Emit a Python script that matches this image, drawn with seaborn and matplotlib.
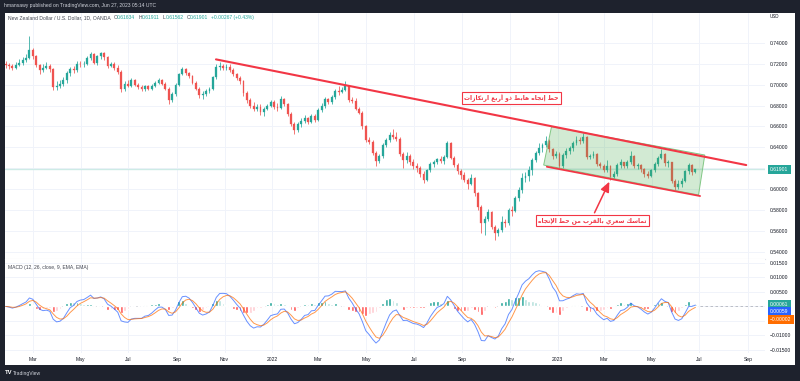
import numpy as np
import pandas as pd
import matplotlib
matplotlib.use("Agg")
import matplotlib.pyplot as plt
import matplotlib.dates as mdates
import matplotlib.transforms as mtransforms
from matplotlib.patches import Rectangle, Polygon
from matplotlib.ticker import FuncFormatter, FixedLocator
import seaborn as sns

# ---------------- DATA (3-trading-day bars, NZD/USD) ----------------
first_open = 0.7200
close_2021 = [0.7190, 0.7175,
              0.7160, 0.7190, 0.7210, 0.7235, 0.7255, 0.7330, 0.7270,
              0.7190, 0.7140, 0.7160, 0.7180, 0.7145, 0.6980, 0.6990,
              0.7010, 0.7040, 0.7110, 0.7150, 0.7140, 0.7200, 0.7195,
              0.7200, 0.7250, 0.7290, 0.7210, 0.7270, 0.7300, 0.7260,
              0.7180, 0.7200, 0.7160, 0.7120, 0.6960, 0.7010, 0.6990,
              0.7040, 0.7000, 0.6975, 0.6955, 0.6985, 0.6960, 0.6990,
              0.7020, 0.7040, 0.7010, 0.6960, 0.6850, 0.6910, 0.7000,
              0.7100, 0.7150, 0.7110, 0.7080, 0.7020, 0.6960, 0.6900,
              0.6910, 0.6940, 0.6960, 0.7070, 0.7170, 0.7180, 0.7160,
              0.7170, 0.7140, 0.7100, 0.7060, 0.7030, 0.6920, 0.6850,
              0.6800, 0.6770, 0.6790, 0.6740, 0.6770, 0.6800, 0.6830]
high_2021 = [0.7225, 0.7205,
             0.7195, 0.7215, 0.7240, 0.7265, 0.7290, 0.7465, 0.7345,
             0.7285, 0.7200, 0.7195, 0.7220, 0.7200, 0.7160, 0.7030,
             0.7040, 0.7070, 0.7130, 0.7170, 0.7180, 0.7225, 0.7230,
             0.7230, 0.7270, 0.7310, 0.7305, 0.7285, 0.7315, 0.7310,
             0.7270, 0.7220, 0.7215, 0.7185, 0.7135, 0.7030, 0.7045,
             0.7060, 0.7055, 0.7020, 0.7000, 0.7000, 0.6995, 0.7010,
             0.7035, 0.7060, 0.7055, 0.7025, 0.6975, 0.6925, 0.7015,
             0.7115, 0.7170, 0.7160, 0.7125, 0.7095, 0.7035, 0.6975,
             0.6935, 0.6960, 0.6975, 0.7085, 0.7200, 0.7220, 0.7195,
             0.7200, 0.7195, 0.7160, 0.7115, 0.7080, 0.7045, 0.6935,
             0.6870, 0.6830, 0.6815, 0.6810, 0.6785, 0.6815, 0.6855]
low_2021 = [0.7160, 0.7150,
            0.7140, 0.7145, 0.7175, 0.7190, 0.7215, 0.7240, 0.7240,
            0.7170, 0.7100, 0.7125, 0.7145, 0.7120, 0.6945, 0.6950,
            0.6965, 0.6990, 0.7020, 0.7085, 0.7115, 0.7125, 0.7170,
            0.7165, 0.7185, 0.7235, 0.7195, 0.7190, 0.7245, 0.7235,
            0.7160, 0.7165, 0.7140, 0.7105, 0.6925, 0.6940, 0.6975,
            0.6975, 0.6985, 0.6960, 0.6935, 0.6940, 0.6945, 0.6950,
            0.6975, 0.7005, 0.7000, 0.6945, 0.6810, 0.6830, 0.6895,
            0.6990, 0.7090, 0.7095, 0.7060, 0.7005, 0.6945, 0.6870,
            0.6860, 0.6890, 0.6920, 0.6945, 0.7055, 0.7140, 0.7140,
            0.7140, 0.7125, 0.7085, 0.7040, 0.7010, 0.6890, 0.6820,
            0.6780, 0.6750, 0.6745, 0.6710, 0.6700, 0.6755, 0.6785]

close_2022 = [0.6790, 0.6780, 0.6860, 0.6810, 0.6720, 0.6620, 0.6570,
              0.6620, 0.6650, 0.6680, 0.6640, 0.6700, 0.6660, 0.6760,
              0.6800, 0.6860, 0.6830, 0.6880, 0.6940, 0.6930, 0.6950,
              0.6990, 0.6850, 0.6840, 0.6770, 0.6730, 0.6600, 0.6470,
              0.6450, 0.6350, 0.6270, 0.6320, 0.6420, 0.6470, 0.6520,
              0.6500, 0.6480, 0.6340, 0.6280, 0.6320, 0.6260, 0.6220,
              0.6200, 0.6150, 0.6090, 0.6180, 0.6240, 0.6260, 0.6290,
              0.6270, 0.6310, 0.6440, 0.6300, 0.6230, 0.6170, 0.6140,
              0.6090, 0.6050, 0.6110, 0.5960, 0.5830, 0.5680, 0.5720,
              0.5780, 0.5640, 0.5580, 0.5610, 0.5690, 0.5680, 0.5800,
              0.5790, 0.5920, 0.5990, 0.6110, 0.6130, 0.6180, 0.6280,
              0.6350, 0.6390, 0.6420, 0.6460, 0.6380, 0.6320, 0.6340]
high_2022 = [0.6850, 0.6820, 0.6890, 0.6875, 0.6825, 0.6735, 0.6640,
             0.6640, 0.6680, 0.6705, 0.6695, 0.6715, 0.6720, 0.6775,
             0.6820, 0.6880, 0.6870, 0.6900, 0.6960, 0.6985, 0.6975,
             0.7035, 0.7000, 0.6880, 0.6870, 0.6790, 0.6745, 0.6615,
             0.6500, 0.6470, 0.6365, 0.6340, 0.6440, 0.6490, 0.6550,
             0.6575, 0.6545, 0.6495, 0.6355, 0.6355, 0.6335, 0.6285,
             0.6250, 0.6225, 0.6170, 0.6195, 0.6260, 0.6280, 0.6300,
             0.6320, 0.6330, 0.6465, 0.6455, 0.6320, 0.6250, 0.6190,
             0.6160, 0.6110, 0.6150, 0.6120, 0.5975, 0.5850, 0.5740,
             0.5815, 0.5790, 0.5655, 0.5625, 0.5740, 0.5720, 0.5820,
             0.5840, 0.5940, 0.6020, 0.6155, 0.6160, 0.6225, 0.6300,
             0.6370, 0.6445, 0.6440, 0.6512, 0.6480, 0.6395, 0.6370]
low_2022 = [0.6770, 0.6745, 0.6765, 0.6795, 0.6700, 0.6600, 0.6530,
            0.6550, 0.6595, 0.6630, 0.6625, 0.6630, 0.6640, 0.6650,
            0.6735, 0.6780, 0.6815, 0.6810, 0.6860, 0.6905, 0.6915,
            0.6935, 0.6835, 0.6825, 0.6760, 0.6715, 0.6580, 0.6455,
            0.6430, 0.6330, 0.6220, 0.6250, 0.6300, 0.6400, 0.6450,
            0.6480, 0.6460, 0.6320, 0.6200, 0.6250, 0.6230, 0.6195,
            0.6165, 0.6120, 0.6060, 0.6075, 0.6160, 0.6215, 0.6240,
            0.6250, 0.6245, 0.6295, 0.6285, 0.6210, 0.6150, 0.6100,
            0.6070, 0.6000, 0.6040, 0.5940, 0.5800, 0.5580, 0.5560,
            0.5700, 0.5620, 0.5512, 0.5555, 0.5590, 0.5640, 0.5660,
            0.5740, 0.5780, 0.5890, 0.5960, 0.6070, 0.6080, 0.6140,
            0.6260, 0.6330, 0.6360, 0.6400, 0.6360, 0.6290, 0.6300]

close_2023 = [0.6220, 0.6330, 0.6370, 0.6390, 0.6440, 0.6470, 0.6460,
              0.6500, 0.6310, 0.6320, 0.6340, 0.6240, 0.6220, 0.6180,
              0.6220, 0.6120, 0.6150, 0.6230, 0.6260, 0.6220, 0.6260,
              0.6320, 0.6220, 0.6230, 0.6190, 0.6150, 0.6130, 0.6180,
              0.6240, 0.6300, 0.6340, 0.6250, 0.6260, 0.6080, 0.6020,
              0.6050, 0.6080, 0.6170, 0.6230, 0.6163, 0.6190]
high_2023 = [0.6360, 0.6345, 0.6390, 0.6410, 0.6460, 0.6510, 0.6495,
             0.6538, 0.6510, 0.6340, 0.6365, 0.6350, 0.6265, 0.6240,
             0.6275, 0.6230, 0.6170, 0.6250, 0.6290, 0.6265, 0.6275,
             0.6365, 0.6330, 0.6255, 0.6240, 0.6205, 0.6170, 0.6195,
             0.6265, 0.6320, 0.6385, 0.6350, 0.6275, 0.6265, 0.6095,
             0.6085, 0.6105, 0.6185, 0.6247, 0.6240, 0.6191]
low_2023 = [0.6190, 0.6205, 0.6300, 0.6340, 0.6365, 0.6420, 0.6435,
            0.6445, 0.6290, 0.6290, 0.6300, 0.6220, 0.6200, 0.6160,
            0.6160, 0.6085, 0.6100, 0.6130, 0.6200, 0.6200, 0.6205,
            0.6245, 0.6200, 0.6190, 0.6165, 0.6120, 0.6110, 0.6115,
            0.6160, 0.6225, 0.6285, 0.6220, 0.6215, 0.6060, 0.5985,
            0.6000, 0.6020, 0.6065, 0.6150, 0.6140, 0.6156]

start_date, end_date = "2021-01-25", "2023-06-26"
price_ticks = [0.54, 0.56, 0.58, 0.60, 0.62, 0.64, 0.66, 0.68, 0.70, 0.72, 0.74]
macd_ticks = [0.015, 0.010, 0.005, 0.0, -0.005, -0.010, -0.015]
last_price = 0.61901
header_text = "hmansawy published on TradingView.com, Jun 27, 2023 05:14 UTC"
title_name = "New Zealand Dollar / U.S. Dollar, 1D, OANDA"
ohlc_labels = [("O", "0.61634"), ("H", "0.61911"), ("L", "0.61562"), ("C", "0.61901")]
change_label = "+0.00267 (+0.43%)"
macd_title = "MACD (12, 26, close, 9, EMA, EMA)"
macd_values = ["0.00061", "0.00059", "\u22120.00002"]
trend_note = "خط إتجاه هابط ذو أربع ارتكازات"
hold_note = "تماسك سعري بالقرب من خط الإتجاه"

# ---------------- Arabic shaping helper (matplotlib has no shaping) ----------------
AR_FORMS = {
    '\u0627': (0xFE8D, 0xFE8E, None, None), '\u0623': (0xFE83, 0xFE84, None, None),
    '\u0625': (0xFE87, 0xFE88, None, None), '\u0628': (0xFE8F, 0xFE90, 0xFE91, 0xFE92),
    '\u062A': (0xFE95, 0xFE96, 0xFE97, 0xFE98), '\u062C': (0xFE9D, 0xFE9E, 0xFE9F, 0xFEA0),
    '\u062E': (0xFEA5, 0xFEA6, 0xFEA7, 0xFEA8), '\u062F': (0xFEA9, 0xFEAA, None, None),
    '\u0630': (0xFEAB, 0xFEAC, None, None), '\u0631': (0xFEAD, 0xFEAE, None, None),
    '\u0632': (0xFEAF, 0xFEB0, None, None), '\u0633': (0xFEB1, 0xFEB2, 0xFEB3, 0xFEB4),
    '\u0637': (0xFEC1, 0xFEC2, 0xFEC3, 0xFEC4), '\u0639': (0xFEC9, 0xFECA, 0xFECB, 0xFECC),
    '\u0642': (0xFED5, 0xFED6, 0xFED7, 0xFED8), '\u0643': (0xFED9, 0xFEDA, 0xFEDB, 0xFEDC),
    '\u0644': (0xFEDD, 0xFEDE, 0xFEDF, 0xFEE0), '\u0645': (0xFEE1, 0xFEE2, 0xFEE3, 0xFEE4),
    '\u0646': (0xFEE5, 0xFEE6, 0xFEE7, 0xFEE8), '\u0647': (0xFEE9, 0xFEEA, 0xFEEB, 0xFEEC),
    '\u0648': (0xFEED, 0xFEEE, None, None), '\u064A': (0xFEF1, 0xFEF2, 0xFEF3, 0xFEF4),
}
LAM_ALEF = {'\u0627': (0xFEFB, 0xFEFC), '\u0623': (0xFEF7, 0xFEF8), '\u0625': (0xFEF9, 0xFEFA)}


def shape_ar(s):
    toks, i = [], 0
    while i < len(s):
        c = s[i]
        if c == '\u0644' and i + 1 < len(s) and s[i + 1] in LAM_ALEF:
            iso, fin = LAM_ALEF[s[i + 1]]
            toks.append((iso, fin, None, None))
            i += 2
            continue
        toks.append(AR_FORMS.get(c, c))
        i += 1
    out = []
    for k, t in enumerate(toks):
        if isinstance(t, str):
            out.append(t)
            continue
        prev = toks[k - 1] if k > 0 else None
        nxt = toks[k + 1] if k + 1 < len(toks) else None
        jp = isinstance(prev, tuple) and prev[2] is not None
        jn = t[2] is not None and isinstance(nxt, tuple)
        g = t[3] if (jp and jn) else t[1] if jp else t[2] if jn else t[0]
        out.append(chr(g))
    return ''.join(reversed(out))


# ---------------- build series ----------------
closes = np.array(close_2021 + close_2022 + close_2023)
highs = np.array(high_2021 + high_2022 + high_2023)
lows = np.array(low_2021 + low_2022 + low_2023)
opens = np.concatenate([[first_open], closes[:-1]])
dates = pd.date_range(start_date, end_date, periods=len(closes))
xd = mdates.date2num(dates)

# MACD(12, 26, 9) on daily data, converted to 3-day bars (same EMA lag in days)
bar_days = 3.09
span = lambda n: 1 + (n - 1) / bar_days
s = pd.Series(closes)
macd = s.ewm(span=span(12), adjust=False).mean() - s.ewm(span=span(26), adjust=False).mean()
signal = macd.ewm(span=span(9), adjust=False).mean()
hist = macd - signal

# ---------------- style ----------------
sns.set_theme(style="white")
plt.rcParams['font.family'] = ['Liberation Sans', 'DejaVu Sans']
UP, DN = '#26a69a', '#ef5350'
RED = '#f23645'
DARK = '#1e222d'
GRID = '#f0f3fa'
TXT = '#131722'
FS = 3.6

W, H = 800.0, 381.0
fx = lambda px: px / W
fy = lambda py: 1 - py / H

fig = plt.figure(figsize=(8, 3.81), dpi=100, facecolor=DARK)
fig.patches.append(Rectangle((fx(4.5), fy(365)), fx(794.5) - fx(4.5), fy(12.5) - fy(365),
                             transform=fig.transFigure, facecolor='white', edgecolor='none', zorder=-10))
ax = fig.add_axes([fx(4.5), fy(258.5), fx(765) - fx(4.5), fy(12.5) - fy(258.5)])
ax2 = fig.add_axes([fx(4.5), fy(353), fx(765) - fx(4.5), fy(258.5) - fy(353)], sharex=ax)
for a in (ax, ax2):
    a.set_facecolor('white')
    for sp in a.spines.values():
        sp.set_visible(False)
    a.set_axisbelow(True)
ax.spines['bottom'].set_visible(True)
ax.spines['bottom'].set_color('#e0e3eb')
ax.spines['bottom'].set_linewidth(0.8)

ax.set_xlim(pd.Timestamp('2021-01-23 14:00'), pd.Timestamp('2023-09-23'))
ax.set_ylim(0.5338, 0.7689)
ax2.set_ylim(-0.01612, 0.01657)

# ---------------- candles ----------------
col = np.where(closes >= opens, UP, DN)
ax.vlines(xd, lows, highs, colors=col, lw=0.55, zorder=3)
ax.bar(xd, np.maximum(np.abs(closes - opens), 0.0002), bottom=np.minimum(opens, closes),
       width=2.4, color=col, edgecolor=col, lw=0.2, zorder=4)

ax.axhline(last_price, color='#cdebe6', lw=1.0, zorder=2)

# trend line, channel, annotations
ax.plot([pd.Timestamp('2021-10-21'), pd.Timestamp('2023-08-30')], [0.7241, 0.6231],
        color=RED, lw=1.5, zorder=6, solid_capstyle='round')
chan = [(pd.Timestamp('2022-12-24'), 0.6597), (pd.Timestamp('2023-07-08'), 0.6327),
        (pd.Timestamp('2023-06-30'), 0.5945), (pd.Timestamp('2022-12-14'), 0.6231)]
ax.add_patch(Polygon([(mdates.date2num(d), p) for d, p in chan], closed=True,
                     facecolor='#4caf50', alpha=0.25, edgecolor='none', zorder=5))
ax.add_patch(Polygon([(mdates.date2num(d), p) for d, p in chan], closed=True,
                     facecolor='none', edgecolor='#81c784', lw=0.7, zorder=5))
ax.plot([pd.Timestamp('2022-12-18'), pd.Timestamp('2023-07-02')], [0.6215, 0.5935],
        color=RED, lw=1.3, zorder=6, solid_capstyle='round')
ax.annotate('', xy=(pd.Timestamp('2023-03-08'), 0.6072), xytext=(pd.Timestamp('2023-02-17'), 0.5775),
            arrowprops=dict(arrowstyle='-|>,head_length=0.5,head_width=0.22', color=RED, lw=1.1,
                            shrinkA=0, shrinkB=0), zorder=7)
boxkw = dict(boxstyle='square,pad=0.35', facecolor='white', edgecolor=RED, lw=0.8)
ax.text(pd.Timestamp('2022-11-03'), 0.6874, shape_ar(trend_note), family='DejaVu Sans',
        fontsize=4.3, fontweight='bold', color=RED, ha='center', va='center', bbox=boxkw, zorder=8)
ax.text(pd.Timestamp('2023-02-14'), 0.5701, shape_ar(hold_note), family='DejaVu Sans',
        fontsize=4.3, fontweight='bold', color=RED, ha='center', va='center', bbox=boxkw, zorder=8)

# ---------------- MACD ----------------
prev = hist.shift(1).fillna(0)
hcol = np.where(hist >= 0, np.where(hist >= prev, '#26a69a', '#b2dfdb'),
                np.where(hist < prev, '#ff5252', '#ffcdd2'))
ax2.bar(xd, hist, width=3.6, color=hcol, zorder=2)
ax2.axhline(0, color='#b2b5be', lw=0.6, ls=(0, (3, 3)), zorder=1)
sns.lineplot(x=xd, y=macd.values, ax=ax2, color='#2962ff', lw=0.7, alpha=0.7, zorder=3)
sns.lineplot(x=xd, y=signal.values, ax=ax2, color='#ff6d00', lw=0.7, alpha=0.7, zorder=3)
ax2.set_xlabel('')
ax2.set_ylabel('')

# ---------------- axes / ticks ----------------
ax2.xaxis.set_major_locator(mdates.MonthLocator(bymonth=[1, 3, 5, 7, 9, 11]))
ax2.xaxis.set_major_formatter(FuncFormatter(
    lambda v, p: mdates.num2date(v).strftime('%Y') if mdates.num2date(v).month == 1
    else mdates.num2date(v).strftime('%b')))
ax.tick_params(axis='x', labelbottom=False, length=0)
ax2.tick_params(axis='x', length=0, pad=3.0, labelsize=FS, labelcolor=TXT)

for a, ticks, hide in ((ax, price_ticks, [0.62]), (ax2, macd_ticks, [0.0, -0.005])):
    a.yaxis.tick_right()
    a.yaxis.set_major_locator(FixedLocator(ticks))
    a.yaxis.set_major_formatter(FuncFormatter(
        lambda v, p, hide=hide: '' if any(abs(v - h) < 1e-9 for h in hide)
        else f'{v:.5f}'.replace('-', '\u2212')))
    a.tick_params(axis='y', length=0, pad=3.6, labelsize=FS, labelcolor=TXT)
    a.grid(True, color=GRID, lw=0.7)

# price-scale labels
tr_main = mtransforms.blended_transform_factory(fig.transFigure, ax.transData)
tr_macd = mtransforms.blended_transform_factory(fig.transFigure, ax2.transData)
lbl = dict(fontsize=FS, color='white', ha='left', va='center', zorder=10)
ax.text(fx(770), last_price, f'{last_price:.5f}', transform=tr_main, clip_on=False,
        bbox=dict(boxstyle='square,pad=0.45', facecolor=UP, edgecolor='none'), **lbl)
for val, yv, c in ((macd_values[0], 0.00072, UP), (macd_values[1], -0.0019, '#2962ff'),
                   (macd_values[2], -0.0045, '#ff6d00')):
    ax2.text(fx(770), yv, val, transform=tr_macd, clip_on=False,
             bbox=dict(boxstyle='square,pad=0.45', facecolor=c, edgecolor='none'), **lbl)

# ---------------- texts ----------------
fig.text(fx(4), fy(6), header_text, color='#d1d4dc', fontsize=FS, va='center')
fig.text(fx(770), fy(17), 'USD', color=TXT, fontsize=FS * 0.9, va='center')


def chain(x0, y0, pieces, fs):
    t = fig.text(x0, y0, pieces[0][0], color=pieces[0][1], fontsize=fs, va='center')
    for txt, c, gap in pieces[1:]:
        t = ax.annotate(txt, xy=(1, 0.5), xycoords=t, xytext=(gap, 0), textcoords='offset points',
                        color=c, fontsize=fs, va='center', ha='left')
    return t


pieces = [(title_name, '#434651', 0)]
for k, v in ohlc_labels:
    pieces += [(k, '#434651', 2.2), (v, UP, 0)]
pieces += [(change_label, UP, 2.2)]
chain(fx(7.5), fy(17.5), pieces, FS)
chain(fx(7.5), fy(268), [(macd_title, '#434651', 0), (macd_values[0], UP, 2.2),
                         (macd_values[1], '#2962ff', 2.2), (macd_values[2], '#ff6d00', 2.2)], FS)

fig.text(fx(4.5), fy(373), 'TV', color='white', fontsize=4.2, fontweight='bold', va='center')
fig.text(fx(12.5), fy(373), 'TradingView', color='#d1d4dc', fontsize=FS, va='center')

fig.savefig('out.png', dpi=100, facecolor=DARK)
